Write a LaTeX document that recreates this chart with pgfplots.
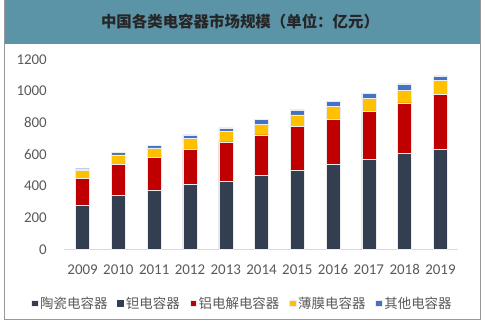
\documentclass[border=0pt]{standalone}
\usepackage{pgfplots}
\pgfplotsset{compat=1.18}
\usepackage{fontspec}
\setmainfont{Carlito}
\newfontfamily\cjk{Noto Sans CJK SC}
\definecolor{cDark}{HTML}{333F50}
\definecolor{cRed}{HTML}{C00000}
\definecolor{cYel}{HTML}{FFC000}
\definecolor{cBlue}{HTML}{4472C4}
\definecolor{cBand}{HTML}{5B93A7}
\definecolor{cTxt}{HTML}{595959}
\begin{document}
\begin{tikzpicture}
\useasboundingbox (0,0) rectangle (485bp,324bp);
\fill[cBand] (5bp,280bp) rectangle (480bp,324bp);
\draw[gray!80, line width=0.8bp] (4.5bp,324bp) -- (4.5bp,5bp) -- (480bp,5bp) -- (480bp,324bp);
\node[font=\cjk\bfseries\fontsize{15.5}{16}\selectfont, text=black!85] at (240bp,302bp) {中国各类电容器市场规模（单位：亿元）};
\begin{axis}[
  at={(64bp,74.7bp)}, anchor=south west,
  scale only axis, width=394bp, height=190bp,
  ybar stacked, bar width=14bp,
  xmin=-0.52, xmax=10.49, ymin=0, ymax=1200,
  xtick=data,
  xticklabels={2009,2010,2011,2012,2013,2014,2015,2016,2017,2018,2019},
  ytick={0,200,400,600,800,1000,1200},
  axis x line*=bottom, axis y line*=left,
  x axis line style={draw=gray!30, line width=0.8bp, -},
  y axis line style={draw=none},
  major tick length=0pt,
  /pgf/number format/assume math mode=true,
  /pgf/number format/1000 sep={},
  tick label style={font=\fontsize{15}{16}\selectfont, text=cTxt},
  xticklabel style={anchor=center, yshift=-20bp},
  yticklabel style={anchor=east, inner sep=0pt, xshift=-17bp},
  legend columns=5,
  legend style={at={(0.453,-0.288)}, anchor=center, draw=none, fill=none,
    font=\cjk\fontsize{13.5}{14}\selectfont, text=cTxt,
    /tikz/every even column/.append style={column sep=8bp}},
  legend image code/.code={\fill[#1] (0bp,-2.5bp) rectangle (6.5bp,4bp);},
  every axis plot/.append style={draw=white!85!gray, line width=0.4bp},
]
\addplot[fill=cDark] coordinates {(0,280) (1,341) (2,373) (3,411) (4,431) (5,469) (6,501) (7,538) (8,568) (9,604) (10,633)};
\addplot[fill=cDark, draw=none] coordinates {(0,0) (1,0) (2,0) (3,0) (4,0) (5,0) (6,0) (7,0) (8,0) (9,0) (10,0)};
\addplot[fill=cRed] coordinates {(0,166) (1,195) (2,207) (3,222) (4,248) (5,254) (6,275) (7,281) (8,304) (9,321) (10,344)};
\addplot[fill=cYel] coordinates {(0,53) (1,61) (2,61) (3,67) (4,65) (5,65) (6,73) (7,82) (8,82) (9,81) (10,88)};
\addplot[fill=cBlue] coordinates {(0,10) (1,15) (2,15) (3,23) (4,23) (5,31) (6,31) (7,32) (8,31) (9,38) (10,31)};
\legend{陶瓷电容器,钽电容器,铝电解电容器,薄膜电容器,其他电容器}
\end{axis}
\end{tikzpicture}
\end{document}
